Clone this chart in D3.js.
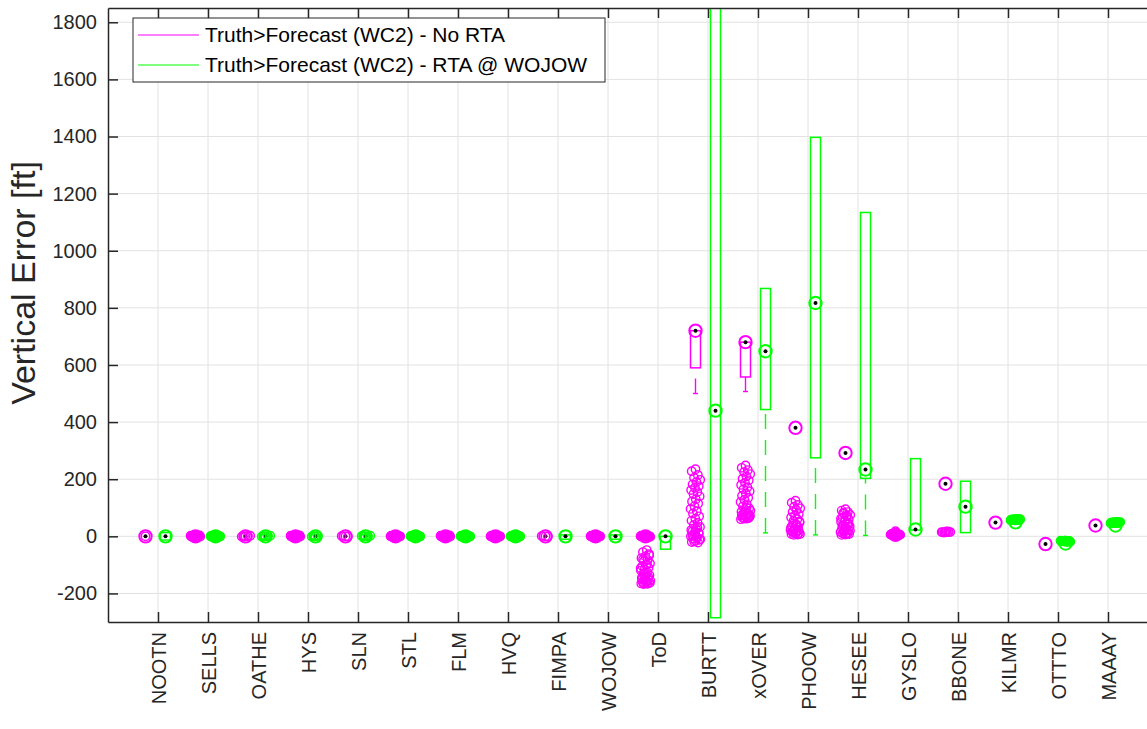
<!DOCTYPE html>
<html>
<head>
<meta charset="utf-8">
<style>
  body { margin: 0; background: #fff; }
  svg { display: block; font-family: 'Liberation Sans', Arial, sans-serif; }
</style>
</head>
<body>
<svg width="1147" height="729"></svg>
<script src="https://d3js.org/d3.v7.min.js"></script>
<script>
const categories = ["NOOTN", "SELLS", "OATHE", "HYS", "SLN", "STL", "FLM", "HVQ", "FIMPA", "WOJOW",
    "ToD", "BURTT", "xOVER", "PHOOW", "HESEE", "GYSLO", "BBONE", "KILMR", "OTTTO", "MAAAY"];
const yTicks = [-200, 0, 200, 400, 600, 800, 1000, 1200, 1400, 1600, 1800];
const legendLabels = ["Truth>Forecast (WC2) - No RTA", "Truth>Forecast (WC2) - RTA @ WOJOW"];

// No RTA (magenta)
const noRtaMedian = [0, 0, 0, 0, 0, 0, 0, 0, 0, 0, 0, 720, 680, 380, 292, 5, 184, 48, -27, 38];
const noRtaQ1 = [0, 0, 0, 0, 0, 0, 0, 0, 0, 0, 0, 590, 558, 380, 292, 5, 184, 48, -27, 38];
const noRtaQ3 = [0, 0, 0, 0, 0, 0, 0, 0, 0, 0, 0, 720, 680, 380, 292, 5, 184, 48, -27, 38];
const noRtaLow = [null, null, null, null, null, null, null, null, null, null, null, 500, 507, null, null, null, null, null, null, null];
const noRtaOutliers = [
    [0],
    [-3, -2, -2, -1, -1, 0, 0, 0, 1, 1, 2, 2, 3, 0, -1, 1, 0, 2, -2, 0],
    [0, -1, 1, 0, 2],
    [-3, -2, -2, -1, -1, 0, 0, 0, 1, 1, 2, 2, 3, 0, -1, 1, 0, 2, -2, 0, 1, -1],
    [0, 1, -1],
    [-3, -2, -1, -1, 0, 0, 0, 1, 1, 2, 3, 0, -1, 1, 0, 2, -2, 0],
    [-3, -2, -2, -1, -1, 0, 0, 0, 1, 1, 2, 2, 3, 0, -1, 1, 0, 2, -2, 0],
    [-3, -2, -1, -1, 0, 0, 0, 1, 1, 2, 3, 0, -1, 1, 0, 2, -2, 0],
    [0, 1, -1],
    [-3, -2, -1, -1, 0, 0, 0, 1, 1, 2, 3, 0, -1, 1, 0, 2, -2, 0],
    [0, 1, -1, 2, -2, 0, 1, -1, 0, 2, -2, 1, 0, -1, 0, 1, -1, 0,
     -48, -55, -62, -70, -76, -83, -88, -95, -100, -104, -110, -115, -120, -126, -131, -136, -140, -145,
     -149, -152, -155, -158, -160, -162, -164, -165, -166, -167, -163, -159, -150, -142, -128, -112, -97, -80, -66],
    [235, 228, 215, 205, 198, 190, 182, 176, 170, 162, 155, 148, 140, 130, 122, 115, 105, 96, 88, 80, 70, 62,
     55, 48, 40, 33, 25, 18, 12, 6, 0, -4, -8, -12, -16, -20, -22, -18, -10, -2, 4, 10, 16, 22, 30],
    [248, 240, 232, 225, 218, 210, 202, 196, 188, 180, 172, 165, 158, 150, 142, 135, 128, 120, 112, 105,
     98, 92, 86, 80, 76, 72, 68, 66, 64, 62, 60, 62, 65, 68, 70, 74, 78, 84, 90, 100],
    [125, 118, 110, 104, 98, 92, 85, 78, 72, 66, 60, 54, 48, 42, 36, 30, 26, 22, 18, 15, 12, 10, 8, 6, 5,
     8, 12, 16, 20, 25, 30, 38, 45, 52],
    [95, 90, 85, 80, 75, 70, 65, 60, 55, 50, 45, 40, 35, 30, 26, 22, 18, 15, 12, 10, 8, 6, 5, 10, 15, 20,
     28, 36, 44, 52, 62, 72, 82],
    [18, 8, 7, 6, 5, 4, 3, 5, 6, 7, 4, 5, 6, 3, 8, 5, 4, 6, 7, 5],
    [14, 15, 16, 13, 15, 17, 14, 16, 15],
    [],
    [],
    []
];

// RTA @ WOJOW (green)
const rtaMedian = [0, 0, 0, 0, 0, 0, 0, 0, 0, 0, 0, 440, 648, 817, 234, 24, 104, 49, -25, 38];
const rtaQ1 = [-13, -10, -10, -10, -10, -10, -10, -10, -10, -10, -45, -285, 444, 275, 203, 22, 13, 49, -25, 38];
const rtaQ3 = [13, 5, 5, 5, 5, 5, 5, 5, 5, 5, 0, 1900, 868, 1397, 1134, 272, 193, 49, -25, 38];
const rtaLow = [null, null, null, null, null, null, null, null, null, null, null, null, 12, 5, 3, null, null, null, null, null];
const rtaOutliers = [
    [],
    [-3, -2, -1, -1, 0, 0, 0, 1, 1, 2, 3, 0, -1, 1, 0, 2, -2, 0],
    [0, -1, 1, 0, 2],
    [0, -1, 1, 0],
    [0, 1, -1, 0, 2],
    [-3, -2, -1, -1, 0, 0, 0, 1, 1, 2, 3, 0, -1, 1, 0, 2, -2, 0],
    [-3, -2, -1, -1, 0, 0, 0, 1, 1, 2, 3, 0, -1, 1, 0, 2, -2, 0],
    [-3, -2, -1, -1, 0, 0, 0, 1, 1, 2, 3, 0, -1, 1, 0, 2, -2, 0],
    [],
    [],
    [],
    [],
    [],
    [],
    [],
    [],
    [],
    [56, 57, 58, 59, 60, 57, 58, 59, 56, 58, 60, 57, 59, 58, 57, 58, 59, 56, 60, 58, 57, 59, 58, 57, 58],
    [-15, -16, -17, -18, -19, -16, -17, -18, -15, -17, -19, -16, -18, -17, -16, -17, -18, -15, -19, -17, -16, -18, -17, -16, -17],
    [46, 47, 48, 49, 50, 47, 48, 49, 46, 48, 50, 47, 49, 48, 47, 48, 49, 46, 50, 48, 47, 49, 48, 47, 48]
];

const series = [
    { name: legendLabels[0], color: "#ff00ff", offset: -0.25, median: noRtaMedian, q1: noRtaQ1, q3: noRtaQ3, low: noRtaLow, out: noRtaOutliers },
    { name: legendLabels[1], color: "#00ff00", offset: 0.15, median: rtaMedian, q1: rtaQ1, q3: rtaQ3, low: rtaLow, out: rtaOutliers }
];

const W = 1147, H = 729;
const plotLeft = 108, plotTop = 8, plotBottom = 622, plotRight = 1158;

const svg = d3.select("svg");
svg.append("rect").attr("width", W).attr("height", H).attr("fill", "white");

const x = d3.scaleLinear().domain([0, 21]).range([plotLeft, plotRight]);
const y = d3.scaleLinear().domain([-300, 1850]).range([plotBottom, plotTop]);

svg.append("defs").append("clipPath").attr("id", "plotclip")
    .append("rect").attr("x", plotLeft).attr("y", plotTop)
    .attr("width", plotRight - plotLeft).attr("height", plotBottom - plotTop);

// grid
let grid = svg.append("g").attr("stroke", "#e2e2e2").attr("stroke-width", 1);
grid.selectAll(".gx").data(categories).join("line")
    .attr("x1", (d, i) => x(i + 1)).attr("x2", (d, i) => x(i + 1))
    .attr("y1", plotTop).attr("y2", plotBottom);
grid.selectAll(".gy").data(yTicks).join("line")
    .attr("x1", plotLeft).attr("x2", plotRight)
    .attr("y1", d => y(d)).attr("y2", d => y(d));

// boxes
let plot = svg.append("g").attr("clip-path", "url(#plotclip)");
let jitter = k => (((k * 0.618034 + 0.5) % 1) - 0.5) * 0.2;

series.forEach(s => {
    let rows = categories.map((c, i) => ({
        pos: i + 1 + s.offset, med: s.median[i], q1: s.q1[i], q3: s.q3[i], low: s.low[i], out: s.out[i]
    }));
    let g = plot.append("g");

    let wh = rows.filter(r => r.low !== null);
    g.selectAll(".whisker").data(wh).join("line")
        .attr("x1", r => x(r.pos)).attr("x2", r => x(r.pos))
        .attr("y1", r => y(r.low)).attr("y2", r => y(r.q1))
        .attr("stroke", s.color).attr("stroke-width", 1.4)
        .attr("stroke-dasharray", "15,11");
    g.selectAll(".cap").data(wh).join("line")
        .attr("x1", r => x(r.pos - 0.05)).attr("x2", r => x(r.pos + 0.05))
        .attr("y1", r => y(r.low)).attr("y2", r => y(r.low))
        .attr("stroke", s.color).attr("stroke-width", 1.4);

    g.selectAll(".box").data(rows).join("rect")
        .attr("x", r => x(r.pos - 0.1))
        .attr("width", x(0.2) - x(0))
        .attr("y", r => y(r.q3))
        .attr("height", r => y(r.q1) - y(r.q3))
        .attr("fill", "none").attr("stroke", s.color).attr("stroke-width", 1.5);

    g.selectAll(".med").data(rows).join("circle")
        .attr("cx", r => x(r.pos)).attr("cy", r => y(r.med))
        .attr("r", 6.2).attr("fill", "none")
        .attr("stroke", s.color).attr("stroke-width", 2);
    g.selectAll(".dot").data(rows).join("circle")
        .attr("cx", r => x(r.pos)).attr("cy", r => y(r.med))
        .attr("r", 2).attr("fill", "black");

    let outs = rows.flatMap(r => r.out.map((v, k) => ({ px: r.pos + jitter(k), v: v })));
    g.selectAll(".out").data(outs).join("circle")
        .attr("cx", d => x(d.px)).attr("cy", d => y(d.v))
        .attr("r", 4.2).attr("fill", "none")
        .attr("stroke", s.color).attr("stroke-width", 1.4);
});

// axes
let axisColor = "#262626";

let yAxis = svg.append("g").attr("transform", `translate(${plotLeft},0)`)
    .call(d3.axisLeft(y).tickValues(yTicks).tickFormat(d => String(d))
        .tickSizeInner(-10).tickSizeOuter(0).tickPadding(11));
yAxis.selectAll("text").style("font-size", "20px").attr("fill", axisColor);

let xAxis = svg.append("g").attr("transform", `translate(0,${plotBottom})`)
    .call(d3.axisBottom(x).tickValues(d3.range(1, 21)).tickFormat(i => categories[i - 1])
        .tickSizeInner(-10).tickSizeOuter(0));
xAxis.selectAll("text")
    .style("font-size", "20px").attr("fill", axisColor)
    .attr("x", -10).attr("y", 0).attr("dy", "0.35em")
    .attr("transform", "rotate(-90)")
    .style("text-anchor", "end");

let topAxis = svg.append("g").attr("transform", `translate(0,${plotTop})`)
    .call(d3.axisTop(x).tickValues(d3.range(1, 21)).tickFormat("").tickSizeInner(-10).tickSizeOuter(0));

[yAxis, xAxis, topAxis].forEach(a => {
    a.selectAll("path.domain").attr("stroke", axisColor).attr("stroke-width", 1.5);
    a.selectAll(".tick line").attr("stroke", axisColor).attr("stroke-width", 1.5);
});

svg.append("text")
    .attr("transform", "translate(35,283) rotate(-90)")
    .attr("text-anchor", "middle")
    .style("font-size", "34px")
    .attr("fill", axisColor)
    .text("Vertical Error [ft]");

// legend
let legend = svg.append("g");
legend.append("rect")
    .attr("x", 133).attr("y", 18).attr("width", 472).attr("height", 64)
    .attr("fill", "white").attr("stroke", axisColor).attr("stroke-width", 1);
series.forEach((s, i) => {
    legend.append("line")
        .attr("x1", 138).attr("x2", 199)
        .attr("y1", 35 + i * 30).attr("y2", 35 + i * 30)
        .attr("stroke", s.color).attr("stroke-width", 1);
    legend.append("text")
        .attr("x", 205).attr("y", 35 + i * 30).attr("dy", "0.35em")
        .style("font-size", "21px").attr("fill", "black")
        .text(s.name);
});
</script>
</body>
</html>
